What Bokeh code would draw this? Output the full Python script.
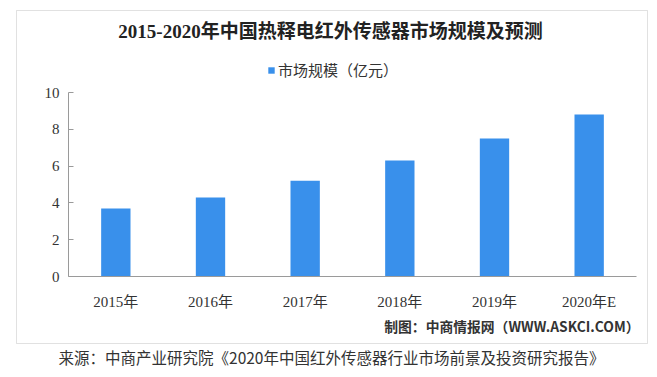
from bokeh.plotting import figure
from bokeh.models import (ColumnDataSource, Range1d, Label, Legend, LegendItem,
                          BoxAnnotation, FixedTicker)
from bokeh.embed import file_html
from bokeh.resources import INLINE

# ---- data ----
years = ["2015年", "2016年", "2017年", "2018年", "2019年", "2020年E"]
market_size = [3.7, 4.3, 5.2, 6.3, 7.5, 8.8]
y_ticks = [0, 2, 4, 6, 8, 10]
series_name = "市场规模（亿元）"
title_text = "2015-2020年中国热释电红外传感器市场规模及预测"
credit_text = "制图：中商情报网（WWW.ASKCI.COM）"
source_text = "来源：中商产业研究院《2020年中国红外传感器行业市场前景及投资研究报告》"

W, H = 657, 377
FL, FR, FT, FB = 68, 636, 92, 276  # data-area edges in px
YMAX = 10

SERIF = "'Liberation Serif', 'Noto Sans CJK SC', serif"
SANS = "'Noto Sans CJK SC', 'Noto Sans', sans-serif"

n = len(years)
cw = (FR - FL) / n          # px per category
uh = (FB - FT) / YMAX       # px per value unit

def dx(px):
    return (px - FL) / cw

def dy(py):
    return (FB - py) / uh

xpos = [i + 0.5 for i in range(n)]
src = ColumnDataSource(dict(x=xpos, y=market_size, label=years))

p = figure(width=W, height=H,
           x_range=Range1d(dx(0), dx(W)), y_range=Range1d(dy(H), dy(0)),
           output_backend="svg", toolbar_location=None,
           min_border_left=0, min_border_right=0, min_border_top=0, min_border_bottom=0)
p.outline_line_color = None
p.background_fill_color = "white"
p.border_fill_color = "white"
p.xgrid.visible = False
p.ygrid.visible = False

r = p.vbar(x="x", top="y", width=0.31, source=src, color="#3990EB", line_color=None)

# axes drawn at fixed data locations
p.yaxis.fixed_location = 0
p.yaxis.bounds = (0, YMAX)
p.yaxis.ticker = FixedTicker(ticks=y_ticks)
p.yaxis.axis_line_color = "#9a9a9a"
p.yaxis.major_tick_line_color = "#9a9a9a"
p.yaxis.major_tick_in = 5
p.yaxis.major_tick_out = 0
p.yaxis.minor_tick_line_color = None
p.yaxis.major_label_text_font = SERIF
p.yaxis.major_label_text_font_size = "15px"
p.yaxis.major_label_text_color = "#333333"
p.yaxis.major_label_standoff = 9

p.xaxis.fixed_location = 0
p.xaxis.bounds = (0, n)
p.xaxis.ticker = FixedTicker(ticks=xpos)
p.xaxis.major_label_overrides = {x: lab for x, lab in zip(xpos, years)}
p.xaxis.axis_line_color = "#9a9a9a"
p.xaxis.major_tick_line_color = None
p.xaxis.minor_tick_line_color = None
p.xaxis.major_label_text_font = SERIF
p.xaxis.major_label_text_font_size = "15px"
p.xaxis.major_label_text_color = "#333333"
p.xaxis.major_label_standoff = 11

# outer frame box
box = BoxAnnotation(left=dx(16), right=dx(647), top=dy(10), bottom=dy(343),
                    fill_alpha=0, line_color="#9a9a9a", line_width=1)
p.add_layout(box)

# title
p.add_layout(Label(x=dx(330), y=dy(31), text=title_text, text_font=SERIF,
                   text_font_size="19px", text_font_style="bold", text_color="#222222",
                   text_align="center", text_baseline="middle"))

# legend
legend = Legend(items=[LegendItem(label=series_name, renderers=[r])],
                location=(267, H - 80), orientation="horizontal",
                glyph_width=8, glyph_height=8, label_standoff=3, label_height=20,
                label_text_font=SANS, label_text_font_size="15px",
                label_text_color="#333333", padding=0, margin=0,
                border_line_color=None, background_fill_alpha=0)
p.add_layout(legend)

# credit
p.add_layout(Label(x=dx(639), y=dy(325), text=credit_text, text_font=SANS,
                   text_font_size="13.8px", text_font_style="bold", text_color="#333333",
                   text_align="right", text_baseline="middle"))

# source caption
p.add_layout(Label(x=dx(331), y=dy(356), text=source_text, text_font=SANS,
                   text_font_size="15.5px", text_color="#333333",
                   text_align="center", text_baseline="middle"))

open("out.html", "w").write(file_html(p, INLINE))
